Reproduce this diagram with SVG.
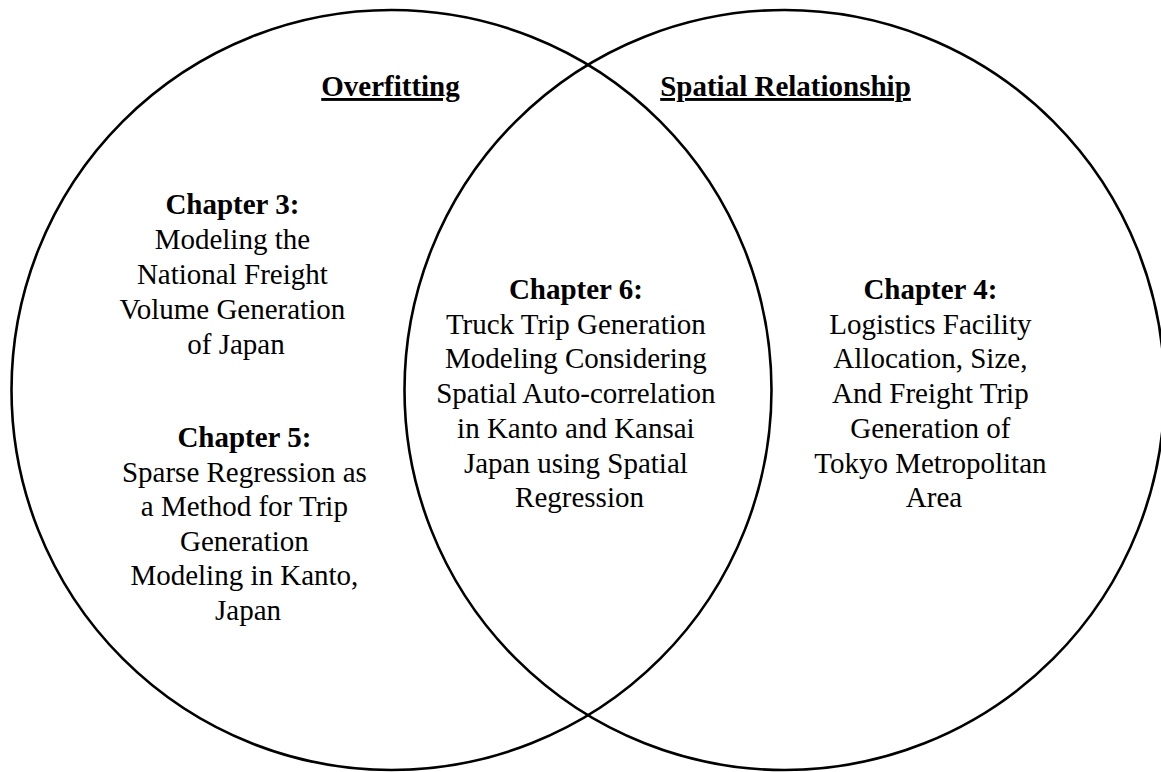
<svg xmlns="http://www.w3.org/2000/svg" width="1161" height="772" viewBox="0 0 1161 772">
  <style>
    .ring { fill: none; stroke: #000; stroke-width: 2.6; }
    text { font-family: "Liberation Serif", "Times New Roman", serif; font-size: 29px; fill: #000; text-anchor: middle; }
    .head { font-weight: bold; }
    .title { font-weight: bold; text-decoration: underline; }
  </style>
  <rect width="1161" height="772" fill="#fff"/>

  <!-- Two overlapping sets -->
  <g id="set-overfitting">
    <circle class="ring" cx="391.5" cy="390" r="380"/>
    <text class="title" x="390.5" y="96">Overfitting</text>
  </g>
  <g id="set-spatial">
    <circle class="ring" cx="784.5" cy="390" r="380"/>
    <text class="title" x="785.5" y="96">Spatial Relationship</text>
  </g>

  <!-- Chapters placed in each region -->
  <g id="chapter-3">
    <text x="236" y="214"><tspan class="head">Chapter 3:</tspan>
      <tspan x="236" dy="35">Modeling the</tspan>
      <tspan x="236" dy="35">National Freight</tspan>
      <tspan x="236" dy="35">Volume Generation</tspan>
      <tspan x="236" dy="35">of Japan</tspan>
    </text>
  </g>

  <g id="chapter-5">
    <text x="248" y="447"><tspan class="head">Chapter 5:</tspan>
      <tspan x="248" dy="34.6">Sparse Regression as</tspan>
      <tspan x="248" dy="34.6">a Method for Trip</tspan>
      <tspan x="248" dy="34.6">Generation</tspan>
      <tspan x="248" dy="34.6">Modeling in Kanto,</tspan>
      <tspan x="248" dy="34.6">Japan</tspan>
    </text>
  </g>

  <g id="chapter-6">
    <text x="579.5" y="299"><tspan class="head">Chapter 6:</tspan>
      <tspan x="579.5" dy="34.7">Truck Trip Generation</tspan>
      <tspan x="579.5" dy="34.7">Modeling Considering</tspan>
      <tspan x="579.5" dy="34.7">Spatial Auto-correlation</tspan>
      <tspan x="579.5" dy="34.7">in Kanto and Kansai</tspan>
      <tspan x="579.5" dy="34.7">Japan using Spatial</tspan>
      <tspan x="579.5" dy="34.7">Regression</tspan>
    </text>
  </g>

  <g id="chapter-4">
    <text x="934" y="299"><tspan class="head">Chapter 4:</tspan>
      <tspan x="934" dy="34.7">Logistics Facility</tspan>
      <tspan x="934" dy="34.7">Allocation, Size,</tspan>
      <tspan x="934" dy="34.7">And Freight Trip</tspan>
      <tspan x="934" dy="34.7">Generation of</tspan>
      <tspan x="934" dy="34.7">Tokyo Metropolitan</tspan>
      <tspan x="934" dy="34.7">Area</tspan>
    </text>
  </g>

  <g id="connectors"></g>
</svg>
